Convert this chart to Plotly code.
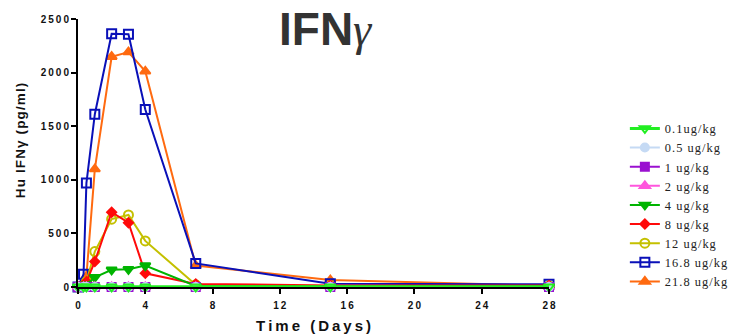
import plotly.graph_objects as go

# Sampling times (days)
days = [0, 0.33, 0.5, 1, 2, 3, 4, 7, 15, 28]

# Hu IFN-gamma concentration (pg/ml) per dose group
dose_labels = ["0.1ug/kg", "0.5 ug/kg", "1 ug/kg", "2 ug/kg", "4 ug/kg",
               "8 ug/kg", "12 ug/kg", "16.8 ug/kg", "21.8 ug/kg"]
ifng_0_1 = [2, 2, 2, 2, 2, 2, 2, 2, 2, 2]
ifng_0_5 = [0, 0, 0, 0, 0, 0, 0, 0, 0, 0]
ifng_1 = [0, 0, 0, 0, 0, 0, 0, 0, 0, 0]
ifng_2 = [0, 0, 0, 0, 0, 0, 0, 0, 0, 0]
ifng_4 = [0, 10, 20, 90, 160, 165, 200, 10, 5, 5]
ifng_8 = [0, 20, 50, 237, 698, 600, 128, 28, 15, 15]
ifng_12 = [0, 10, 50, 330, 633, 672, 430, 20, 10, 10]
ifng_16_8 = [0, 120, 969, 1612, 2362, 2358, 1655, 220, 30, 25]
ifng_21_8 = [0, 30, 100, 1100, 2148, 2192, 2012, 200, 65, 12]

series = [ifng_0_1, ifng_0_5, ifng_1, ifng_2, ifng_4,
          ifng_8, ifng_12, ifng_16_8, ifng_21_8]

colors = ["#22ee22", "#c5daf4", "#9a10d0", "#ff55dd", "#00b400",
          "#ff0a0a", "#c4c000", "#0a10b8", "#ff6a10"]
symbols = ["triangle-down-open", "circle", "square", "triangle-up", "triangle-down",
           "diamond", "circle-open", "square-open", "triangle-up"]
sizes = [9, 8, 8, 9, 9, 7, 9, 9, 9]
widths = [3, 2, 2, 2, 2, 2, 2, 2, 2]

TS = "\u2009"
HS = "\u200a"


def spaced(s, sep=TS):
    return sep.join(s)


fig = go.Figure()
# highest dose drawn first so lower doses sit on top
for i in reversed(range(len(series))):
    fig.add_trace(go.Scatter(
        x=days, y=series[i], name=spaced(dose_labels[i], HS),
        mode="lines+markers",
        line=dict(color=colors[i], width=widths[i]),
        marker=dict(symbol=symbols[i], size=sizes[i], color=colors[i],
                    line=dict(color=colors[i], width=2)),
        cliponaxis=False,
    ))

x_ticks = [0, 4, 8, 12, 16, 20, 24, 28]
y_ticks = [0, 500, 1000, 1500, 2000, 2500]

tick_font = dict(family="Liberation Sans", size=10, color="#111111", weight="bold")

fig.update_layout(
    width=736, height=335,
    margin=dict(l=78, r=187, t=19, b=48, autoexpand=False),
    paper_bgcolor="white", plot_bgcolor="white",
    showlegend=True,
    legend=dict(
        xref="container", yref="container",
        x=0.849, y=0.66, xanchor="left", yanchor="top",
        traceorder="reversed", maxheight=320,
        font=dict(family="Liberation Serif", size=12.4, color="#222222"),
        bgcolor="rgba(0,0,0,0)",
    ),
    xaxis=dict(
        range=[0, 28], tickvals=x_ticks,
        ticktext=[spaced(str(v)) for v in x_ticks],
        showgrid=False, zeroline=False, automargin=False,
        showline=True, linecolor="black", linewidth=2,
        ticks="outside", ticklen=5, tickwidth=2, tickcolor="black",
        ticklabelstandoff=3,
        tickfont=tick_font,
    ),
    yaxis=dict(
        range=[0, 2500], tickvals=y_ticks,
        ticktext=[spaced(str(v)) for v in y_ticks],
        showgrid=False, zeroline=False, automargin=False,
        showline=True, linecolor="black", linewidth=2,
        ticks="outside", ticklen=5, tickwidth=2, tickcolor="black",
        tickfont=tick_font,
    ),
    annotations=[
        dict(
            xref="paper", yref="paper", x=0.527, y=0.962,
            xanchor="center", yanchor="middle",
            text="<b>IFN</b><span style='font-family:Liberation Serif'><i>γ</i></span>",
            showarrow=False,
            font=dict(family="Liberation Sans", size=46, color="#333333"),
        ),
        dict(
            xref="paper", yref="paper", x=-0.122, y=0.546,
            xanchor="center", yanchor="middle", textangle=-90,
            text="<b>" + spaced("Hu IFNγ (pg/ml)", HS) + "</b>",
            showarrow=False,
            font=dict(family="Liberation Sans", size=13.5, color="#111111"),
        ),
        dict(
            xref="paper", yref="paper", x=0.5, y=-0.142,
            xanchor="center", yanchor="middle",
            text="<b>" + spaced("Time (Days)") + "</b>",
            showarrow=False,
            font=dict(family="Liberation Sans", size=15, color="#111111"),
        ),
    ],
)

fig.write_html("out.html")
